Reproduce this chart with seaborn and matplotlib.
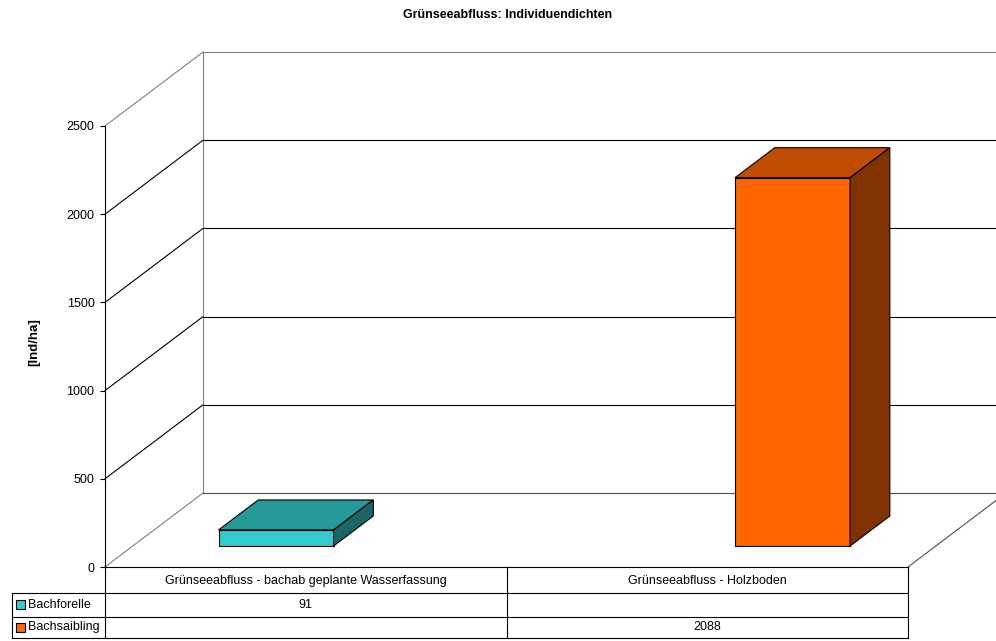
import matplotlib
matplotlib.use("Agg")
import matplotlib.pyplot as plt
import pandas as pd
import seaborn as sns
from matplotlib.patches import Polygon, Rectangle
from matplotlib.lines import Line2D

# ---- data -------------------------------------------------------------
title = "Grünseeabfluss: Individuendichten"
y_label = "[Ind/ha]"
sites = ["Grünseeabfluss - bachab geplante Wasserfassung", "Grünseeabfluss - Holzboden"]
species = ["Bachforelle", "Bachsaibling"]
bachforelle = [91, None]
bachsaibling = [None, 2088]
y_ticks = [0, 500, 1000, 1500, 2000, 2500]

front_colors = ["#33CCCC", "#FF6600"]
top_colors = ["#269999", "#BF4C00"]
side_colors = ["#1A6666", "#803300"]

rows = []
for name, values in zip(species, [bachforelle, bachsaibling]):
    for site, v in zip(sites, values):
        if v is not None:
            rows.append({"Standort": site, "Art": name, "Wert": v})
df = pd.DataFrame(rows)

# ---- figure / front plane of the 3-D box -----------------------------
plt.rcParams["font.family"] = ["Liberation Sans", "DejaVu Sans"]
W, H = 996, 641
fig = plt.figure(figsize=(W / 100, H / 100), dpi=100)
fig.patch.set_facecolor("white")

AX_L, AX_R, AX_B, AX_T = 105, 908, 567, 126     # pixel frame of front plane
ax = fig.add_axes([AX_L / W, (H - AX_B) / H, (AX_R - AX_L) / W, (AX_B - AX_T) / H])
ax.patch.set_visible(False)
ax.set_xlim(-0.5, 1.5)
ax.set_ylim(0, 2500)

# depth of the box (pixels) expressed in data units
px_x = 2.0 / (AX_R - AX_L)
px_y = 2500.0 / (AX_B - AX_T)
DX, DY = 98 * px_x, 74 * px_y
BAR_F, BAR_B = 21 / 74, 51 / 74                  # bar front/back depth fraction


def at(x, y, f):
    return (x + f * DX, y + f * DY)


GRAY = "#808080"
DARK = "#505050"
LW = 0.8

# left wall diagonals
for v in y_ticks:
    c = GRAY if v in (y_ticks[0], y_ticks[-1]) else "black"
    p0, p1 = (-0.5, v), at(-0.5, v, 1)
    ax.add_line(Line2D([p0[0], p1[0]], [p0[1], p1[1]], color=c, lw=LW, clip_on=False, zorder=1))

# back wall
b0, b1 = at(-0.5, 0, 1), at(-0.5, 2500, 1)
ax.add_line(Line2D([b0[0], b1[0]], [b0[1], b1[1]], color=GRAY, lw=LW, clip_on=False, zorder=1))
for v in y_ticks:
    if v == y_ticks[-1]:
        c = GRAY
    elif v == 0:
        c = DARK
    else:
        c = "black"
    p0, p1 = at(-0.5, v, 1), at(1.5, v, 1)
    ax.add_line(Line2D([p0[0], p1[0]], [p0[1], p1[1]], color=c, lw=LW, clip_on=False, zorder=1))

# floor right edge
p0, p1 = (1.5, 0), at(1.5, 0, 1)
ax.add_line(Line2D([p0[0], p1[0]], [p0[1], p1[1]], color=DARK, lw=LW, clip_on=False, zorder=1))

# ---- bars ---------------------------------------------------------------
sns.barplot(data=df, x="Standort", y="Wert", hue="Art", order=sites, hue_order=species,
            palette=front_colors, saturation=1, width=0.573, dodge=True, errorbar=None,
            edgecolor="black", linewidth=LW, legend=False, ax=ax)

bars = [p for p in ax.patches if isinstance(p, Rectangle) and p.get_height() > 0]
for p in bars:
    x0, y0 = p.get_x(), p.get_y()
    w, h = p.get_width(), p.get_height()
    fc = p.get_facecolor()
    idx = 0 if fc[0] < 0.5 else 1
    x0f, y0f = at(x0, y0, BAR_F)
    p.set_xy((x0f, y0f))
    p.set_zorder(3)
    p.set_clip_on(False)
    x1 = x0 + w
    top = [at(x0, y0 + h, BAR_F), at(x1, y0 + h, BAR_F), at(x1, y0 + h, BAR_B), at(x0, y0 + h, BAR_B)]
    side = [at(x1, y0, BAR_F), at(x1, y0 + h, BAR_F), at(x1, y0 + h, BAR_B), at(x1, y0, BAR_B)]
    ax.add_patch(Polygon(top, closed=True, facecolor=top_colors[idx], edgecolor="black",
                         lw=LW, zorder=3, clip_on=False))
    ax.add_patch(Polygon(side, closed=True, facecolor=side_colors[idx], edgecolor="black",
                         lw=LW, zorder=3, clip_on=False))

# ---- axes styling -------------------------------------------------------
for s in ("top", "right"):
    ax.spines[s].set_visible(False)
ax.spines["left"].set_linewidth(LW)
ax.spines["bottom"].set_linewidth(LW)
ax.set_yticks(y_ticks)
ax.set_yticklabels([str(t) for t in y_ticks], fontsize=9)
ax.tick_params(axis="y", length=3.6, width=LW, pad=4, colors="black")
ax.set_xticks([])
ax.set_xlabel("")
ax.set_ylabel(y_label, fontsize=9.5, fontweight="bold")
ax.yaxis.set_label_coords(-0.081, 0.51)

fig.text(508 / W, 1 - 15 / H, title, ha="center", va="center", fontsize=9, fontweight="bold")

# ---- data table below the plot -----------------------------------------
row_y = [567, 592.5, 616.5, 638]
col_x = [12, 105, 506.5, 908]


def fx(px):
    return px / W


def fy(py):
    return 1 - py / H


def hline(py, xa, xb):
    fig.add_artist(Line2D([fx(xa), fx(xb)], [fy(py), fy(py)], color="black", lw=LW))


def vline(px, ya, yb):
    fig.add_artist(Line2D([fx(px), fx(px)], [fy(ya), fy(yb)], color="black", lw=LW))


hline(row_y[1], col_x[0], col_x[3])
hline(row_y[2], col_x[0], col_x[3])
hline(row_y[3], col_x[0], col_x[3])
vline(col_x[0], row_y[1], row_y[3])
for cx in col_x[1:]:
    vline(cx, row_y[0], row_y[3])

for j, site in enumerate(sites):
    fig.text(fx((col_x[j + 1] + col_x[j + 2]) / 2), fy((row_y[0] + row_y[1]) / 2 + 1), site,
             ha="center", va="center", fontsize=9)

for i, (name, values) in enumerate(zip(species, [bachforelle, bachsaibling])):
    yc = (row_y[i + 1] + row_y[i + 2]) / 2
    fig.add_artist(Rectangle((fx(16), fy(yc + 4.5)), 9 / W, 9 / H, facecolor=front_colors[i],
                             edgecolor="black", lw=LW, transform=fig.transFigure))
    fig.text(fx(28), fy(yc), name, ha="left", va="center", fontsize=9)
    for j, v in enumerate(values):
        if v is not None:
            fig.text(fx((col_x[j + 1] + col_x[j + 2]) / 2), fy(yc), str(v),
                     ha="center", va="center", fontsize=9)

fig.savefig("out.png", dpi=100)
